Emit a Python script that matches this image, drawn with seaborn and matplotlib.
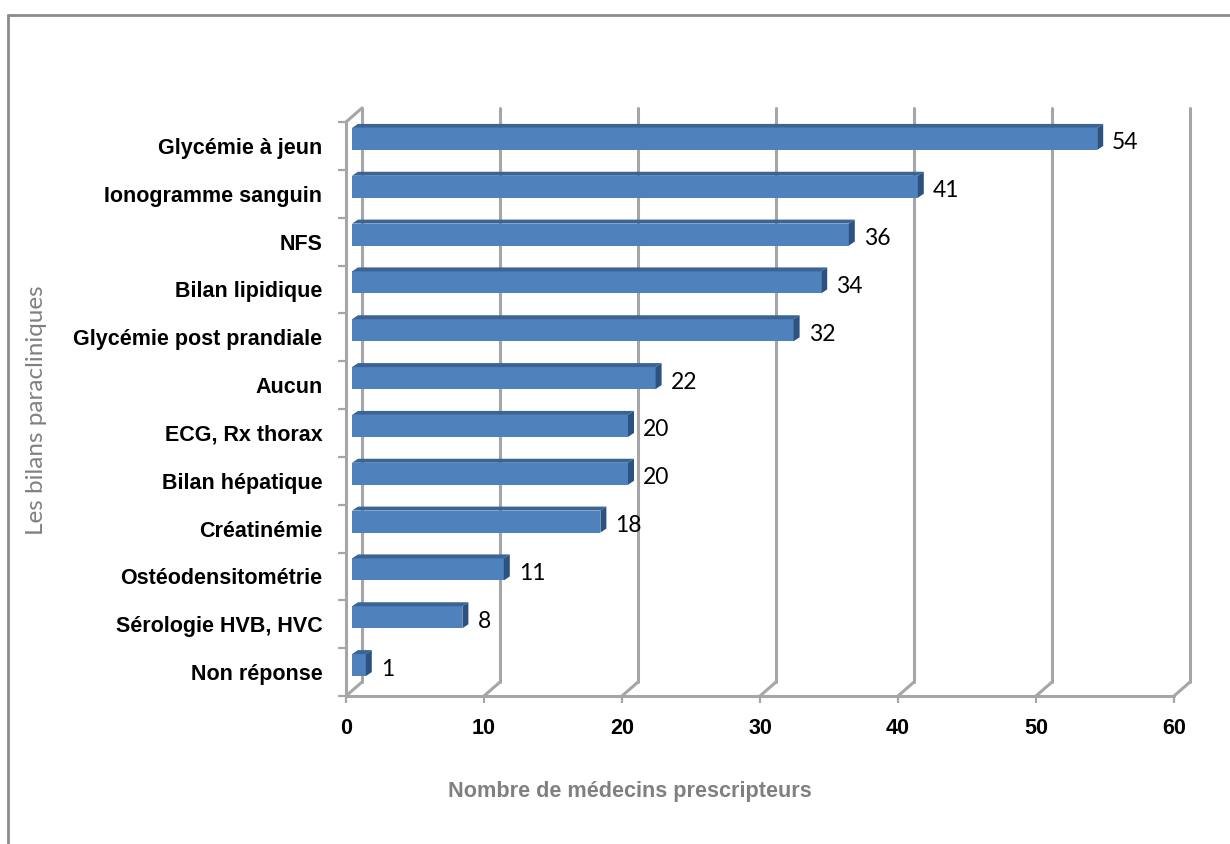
import numpy as np
import pandas as pd
import matplotlib
matplotlib.use("Agg")
import matplotlib.pyplot as plt
import seaborn as sns
from matplotlib.transforms import offset_copy
from matplotlib.patches import Polygon

# Data
categories = ["Glycémie à jeun", "Ionogramme sanguin", "NFS", "Bilan lipidique",
              "Glycémie post prandiale", "Aucun", "ECG, Rx thorax", "Bilan hépatique",
              "Créatinémie", "Ostéodensitométrie", "Sérologie HVB, HVC", "Non réponse"]
counts = [54, 41, 36, 34, 32, 22, 20, 20, 18, 11, 8, 1]
xticks = [0, 10, 20, 30, 40, 50, 60]

df = pd.DataFrame({"bilan": categories, "n": counts})

sns.set_style("white")
plt.rcParams["font.family"] = ["Liberation Sans", "DejaVu Sans"]
plt.rcParams["text.color"] = "black"
plt.rcParams["xtick.labelcolor"] = "black"
plt.rcParams["ytick.labelcolor"] = "black"

W, H = 1230, 844
fig = plt.figure(figsize=(W / 100, H / 100), dpi=100)
ax = fig.add_axes([346 / W, (H - 696) / H, (1174 - 346) / W, (696 - 122) / H])

front = "#4F81BD"
top_c = "#3A6496"
side_c = "#2C5282"
grid_c = "#A6A6A6"

sns.barplot(data=df, y="bilan", x="n", orient="h", color=front, width=0.46,
            saturation=1, ax=ax, edgecolor="none")

ax.set_xlim(0, 60)
ax.set_ylim(len(categories) - 0.5, -0.5)

# pixel -> data scale
pxx = (1174 - 346) / 60.0
pxy = (696 - 122) / len(categories)

bar_tr = offset_copy(ax.transData, fig=fig, x=6, y=7, units="dots")
ddx, ddy = 6 / pxx, 4 / pxy
for p in ax.patches:
    p.set_transform(bar_tr)
    x0, y0 = p.get_x(), p.get_y()
    w, h = p.get_width(), p.get_height()
    # top face (y axis inverted: top edge is y0)
    ax.add_patch(Polygon([(x0, y0), (x0 + w, y0), (x0 + w + ddx, y0 - ddy), (x0 + ddx, y0 - ddy)],
                         closed=True, facecolor=top_c, edgecolor="none", transform=bar_tr,
                         clip_on=False, zorder=3))
    # right side face
    ax.add_patch(Polygon([(x0 + w, y0), (x0 + w + ddx, y0 - ddy), (x0 + w + ddx, y0 + h - ddy),
                          (x0 + w, y0 + h)],
                         closed=True, facecolor=side_c, edgecolor="none", transform=bar_tr,
                         clip_on=False, zorder=3))
    p.set_zorder(3)

# value labels
lab_tr = offset_copy(ax.transData, fig=fig, x=21, y=3, units="dots")
for i, v in enumerate(counts):
    ax.text(v, i, str(v), transform=lab_tr, ha="left", va="center",
            fontsize=16.5, family=["Lato", "DejaVu Sans"], color="black", zorder=4)

# 3D frame: back wall gridlines, floor, left wall
dx, dy = 16 / pxx, 14 / pxy
ybot, ytop = len(categories) - 0.5, -0.5
lw = 2.2
for xt in xticks:
    ax.plot([xt + dx, xt + dx], [ybot - dy, ytop - dy], color=grid_c, lw=lw, clip_on=False, zorder=1)
    ax.plot([xt, xt + dx], [ybot, ybot - dy], color=grid_c, lw=lw, clip_on=False, zorder=1)
ax.plot([0, 60], [ybot, ybot], color=grid_c, lw=lw, clip_on=False, zorder=2)
ax.plot([0, 0], [ybot, ytop], color=grid_c, lw=lw, clip_on=False, zorder=2)
ax.plot([0, dx], [ytop, ytop - dy], color=grid_c, lw=lw, clip_on=False, zorder=2)

for s in ax.spines.values():
    s.set_visible(False)

# ticks
ax.set_xticks(xticks)
ax.set_xticklabels([str(t) for t in xticks])
ax.set_yticks(range(len(categories)))
ax.set_yticklabels(categories)
ax.set_yticks(np.arange(-0.5, len(categories), 1.0), minor=True)
ax.tick_params(axis="y", which="major", length=0, pad=17, labelsize=15.5, labelcolor="black")
ax.tick_params(axis="y", which="minor", length=6, width=1.6, color=grid_c, direction="out", left=True)
ax.tick_params(axis="x", which="major", length=5, width=1.6, color=grid_c, pad=11, labelsize=15.5,
               bottom=True, labelcolor="black")
for t in ax.get_yticklabels() + ax.get_xticklabels():
    t.set_fontweight("bold")

ax.set_xlabel("")
ax.set_ylabel("")

fig.text(630 / W, 1 - 791 / H, "Nombre de médecins prescripteurs", ha="center", va="center",
         fontsize=15.6, fontweight="bold", color="#808080")
fig.text(37 / W, 1 - 410 / H, "Les bilans paracliniques", ha="center", va="center",
         rotation=90, fontsize=17.5, family=["Lato", "DejaVu Sans"], color="#808080")

# outer chart border (left and top only visible)
fig.add_artist(plt.Line2D([8 / W, 8 / W], [0, 1 - 15 / H], color="#8C8C8C", lw=2, transform=fig.transFigure))
fig.add_artist(plt.Line2D([8 / W, 1], [1 - 15 / H, 1 - 15 / H], color="#8C8C8C", lw=2, transform=fig.transFigure))

fig.savefig("out.png", dpi=100)
